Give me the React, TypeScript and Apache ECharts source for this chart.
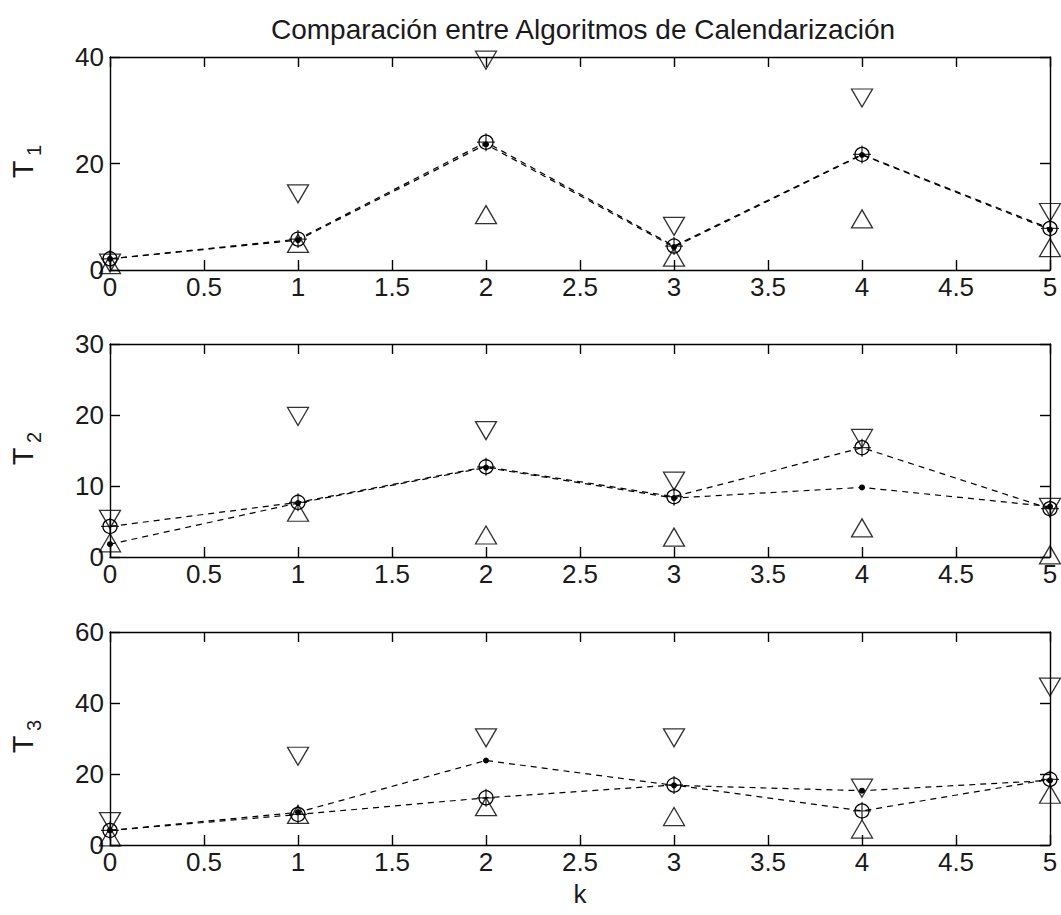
import React, { useEffect, useRef } from 'react';
import * as echarts from 'echarts';

// k values (x axis)
const kValues = [0, 1, 2, 3, 4, 5];

// Panel T1
const t1Dot = [2.1, 5.6, 23.6, 4.3, 21.6, 7.6];
const t1Circle = [2.1, 5.8, 24.0, 4.5, 21.7, 7.8];
const t1Lower = [1.0, 5.0, 10.4, 2.4, 9.6, 4.2];
const t1Upper = [1.3, 14.3, 39.4, 8.2, 32.3, 10.8];

// Panel T2
const t2Dot = [1.8, 7.6, 12.6, 8.3, 9.8, 7.1];
const t2Circle = [4.3, 7.7, 12.7, 8.5, 15.4, 6.8];
const t2Lower = [2.0, 6.3, 3.1, 2.8, 4.1, 0.3];
const t2Upper = [5.3, 19.8, 17.8, 10.7, 16.7, 7.0];

// Panel T3
const t3Dot = [4.1, 9.2, 23.8, 16.8, 15.3, 18.2];
const t3Circle = [4.1, 8.6, 13.3, 16.9, 9.6, 18.5];
const t3Lower = [2.3, 8.6, 10.8, 8.0, 4.5, 14.3];
const t3Upper = [6.6, 25.0, 30.2, 30.2, 16.0, 44.5];

// Y axis ranges
const yMax = [40, 30, 60];
const yInterval = [20, 10, 20];
const ySubscripts = ['1', '2', '3'];

const titleText = 'Comparación entre Algoritmos de Calendarización';
const xName = 'k';

const FONT = 'Liberation Sans, Arial, Helvetica, sans-serif';
const TXT = '#1a1a1a';

const gridLeft = 110;
const gridWidth = 940;
const gridTops = [57, 344, 632];
const gridHeight = 213;

function toPairs(vals: number[]) {
  return kValues.map((k, j) => [k, vals[j]]);
}

const dashed = { color: '#000', width: 1.2, type: [6, 5] as any };
const hollow = { color: 'rgba(0,0,0,0)', borderColor: '#000', borderWidth: 1.3 };

function panelSeries(i: number, dot: number[], circ: number[], lower: number[], upper: number[]) {
  const ax = { xAxisIndex: 2 * i, yAxisIndex: 2 * i };
  return [
    {
      type: 'line', ...ax, data: toPairs(dot), symbol: 'circle', symbolSize: 6,
      itemStyle: { color: '#000' }, lineStyle: dashed, clip: false, silent: true, z: 3,
    },
    {
      type: 'line', ...ax, data: toPairs(circ), symbol: 'circle', symbolSize: 14,
      itemStyle: hollow, lineStyle: dashed, clip: false, silent: true, z: 3,
    },
    {
      type: 'scatter', ...ax, data: toPairs(circ), symbol: 'path://M5,0L5,10M0,5L10,5', symbolSize: 18,
      itemStyle: hollow, clip: false, silent: true, z: 4,
    },
    {
      type: 'scatter', ...ax, data: toPairs(lower), symbol: 'triangle', symbolSize: [21, 18],
      itemStyle: hollow, clip: false, silent: true, z: 4,
    },
    {
      type: 'scatter', ...ax, data: toPairs(upper), symbol: 'triangle', symbolRotate: 180, symbolSize: [21, 18],
      itemStyle: hollow, clip: false, silent: true, z: 4,
    },
  ];
}

function buildOption() {
  const grids = gridTops.map((top) => ({ left: gridLeft, top, width: gridWidth, height: gridHeight, show: false }));
  const axisLine = { show: true, onZero: false, lineStyle: { color: '#000', width: 1.4 } };
  const axisTick = { show: true, inside: true, length: 10, lineStyle: { color: '#000', width: 1.4 } };
  const labelStyle = { color: TXT, fontSize: 26, fontFamily: FONT };
  const xAxes: any[] = [];
  const yAxes: any[] = [];
  gridTops.forEach((_, i) => {
    xAxes.push({
      type: 'value', gridIndex: i, position: 'bottom', min: 0, max: 5, interval: 0.5,
      axisLine, axisTick, splitLine: { show: false },
      axisLabel: { ...labelStyle, margin: 4 },
      ...(i === 2
        ? { name: xName, nameLocation: 'middle', nameGap: 36, nameTextStyle: { ...labelStyle } }
        : {}),
    });
    xAxes.push({
      type: 'value', gridIndex: i, position: 'top', min: 0, max: 5, interval: 0.5,
      axisLine, axisTick, splitLine: { show: false }, axisLabel: { show: false },
    });
    yAxes.push({
      type: 'value', gridIndex: i, position: 'left', min: 0, max: yMax[i], interval: yInterval[i],
      axisLine, axisTick, splitLine: { show: false },
      axisLabel: { ...labelStyle, margin: 6 },
    });
    yAxes.push({
      type: 'value', gridIndex: i, position: 'right', min: 0, max: yMax[i], interval: yInterval[i],
      axisLine, axisTick, splitLine: { show: false }, axisLabel: { show: false },
    });
  });

  const graphics: any[] = [];
  gridTops.forEach((top, i) => {
    const cy = top + gridHeight / 2;
    graphics.push({
      type: 'text', x: 23, y: cy + 6, rotation: Math.PI / 2,
      style: { text: 'T', font: `29px ${FONT}`, fill: TXT, align: 'center', verticalAlign: 'middle' },
    });
    graphics.push({
      type: 'text', x: 34, y: cy - 13, rotation: Math.PI / 2,
      style: { text: ySubscripts[i], font: `20px ${FONT}`, fill: TXT, align: 'center', verticalAlign: 'middle' },
    });
  });

  return {
    animation: false,
    backgroundColor: '#fff',
    title: {
      text: titleText, left: gridLeft + gridWidth / 2 - 2, top: 10, textAlign: 'center',
      textStyle: { color: TXT, fontSize: 28, fontWeight: 'normal', fontFamily: FONT },
    },
    grid: grids,
    xAxis: xAxes,
    yAxis: yAxes,
    graphic: graphics,
    series: [
      ...panelSeries(0, t1Dot, t1Circle, t1Lower, t1Upper),
      ...panelSeries(1, t2Dot, t2Circle, t2Lower, t2Upper),
      ...panelSeries(2, t3Dot, t3Circle, t3Lower, t3Upper),
    ],
  };
}

export default function App() {
  const ref = useRef<HTMLDivElement>(null);
  useEffect(() => {
    if (!ref.current) return;
    const chart = echarts.init(ref.current, null, { renderer: 'svg' });
    chart.setOption(buildOption() as any);
    return () => chart.dispose();
  }, []);
  return (
    <div
      ref={ref}
      style={{ position: 'fixed', left: 0, top: 0, width: 1061, height: 915, background: '#fff' }}
    />
  );
}
